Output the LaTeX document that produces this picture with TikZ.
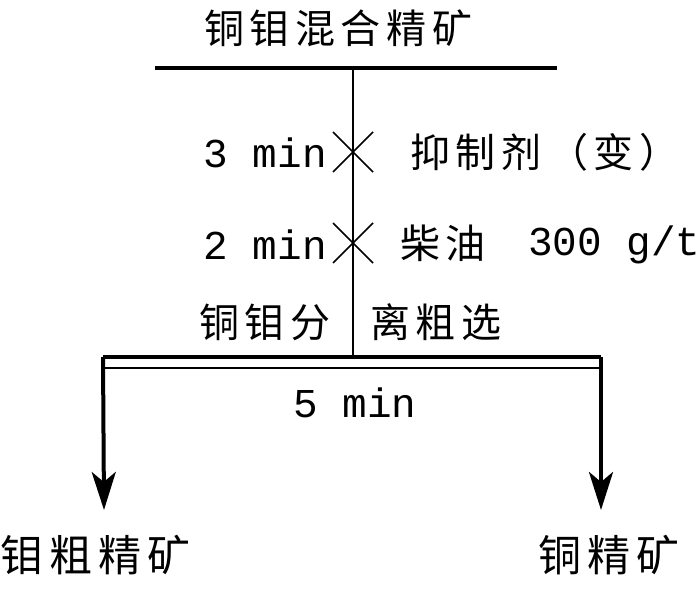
\documentclass[tikz,border=0pt]{standalone}
\usepackage{fontspec}
\newfontfamily\cjk[LetterSpace=14]{Noto Sans CJK SC}
\newfontfamily\mono{Liberation Mono}
\usetikzlibrary{arrows.meta}
\begin{document}
\begin{tikzpicture}[x=1pt,y=-1pt,
  cn/.style={font=\cjk\fontsize{40}{42}\selectfont, inner sep=0pt},
  cnb/.style={font=\cjk\fontsize{43}{45}\selectfont, inner sep=0pt},
  mn/.style={font=\mono\fontsize{41}{43}\selectfont, inner sep=0pt},
  thick line/.style={line width=4pt},
  thin line/.style={line width=2.5pt},
  xmark/.style={line width=1.5pt}]
\useasboundingbox (0,0) rectangle (700,588);
% title
\node[cn, anchor=west] (feed) at (204,28) {铜钼混合精矿};
\coordinate (tl) at (155,68);
\coordinate (tr) at (557,68);
\draw[thick line] (tl) -- (tr);
\coordinate (vtop) at (353,68);
\coordinate (vbot) at (353,355);
\draw[thin line] (vtop) -- (vbot);
% x marks
\coordinate (x1) at (353,152);
\coordinate (x2) at (353,243);
\foreach \c in {x1,x2}{
  \draw[xmark] ([shift={(-20,-20)}]\c) -- ([shift={(20,20)}]\c);
  \draw[xmark] ([shift={(-20,20)}]\c) -- ([shift={(20,-20)}]\c);
}
\node[mn, anchor=east] (t1) at (327,153) {3 min};
\node[cn, anchor=west] (r1) at (410,152) {抑制剂\,（变）};
\node[mn, anchor=east] (t2) at (327,245) {2 min};
\node[cn, anchor=west] (r2) at (400,243) {柴油};
\node[mn, anchor=west] (d2) at (528,245) {300 g/t};
\node[cn, anchor=west] (s1) at (199,322) {铜钼分};
\node[cn, anchor=west] (s2) at (370,322) {离粗选};
% cell
\coordinate (bl) at (103,357);
\coordinate (br) at (601,357);
\draw[thick line] (bl) -- (br);
\coordinate (il) at (103,368);
\coordinate (ir) at (601,368);
\draw[line width=2pt] (il) -- (ir);
\node[mn] (tc) at (355,403) {5 min};
\coordinate (al) at (104,510);
\coordinate (ar) at (601,510);
\draw[thick line, -{Stealth[length=38pt,width=24pt,inset=10pt]}] (bl) -- (al);
\draw[thick line, -{Stealth[length=38pt,width=24pt,inset=10pt]}] (br) -- (ar);
\node[cnb, anchor=west] (p1) at (0,555) {钼粗精矿};
\node[cnb, anchor=west] (p2) at (538,555) {铜精矿};
\end{tikzpicture}
\end{document}
